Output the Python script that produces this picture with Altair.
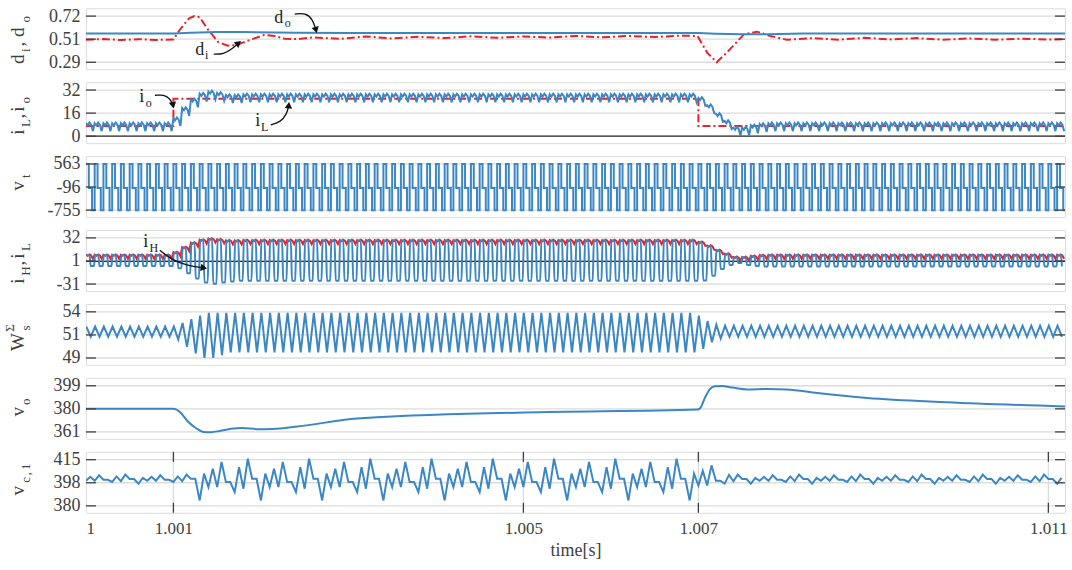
import altair as alt
import pandas as pd

# ---------------------------------------------------------------- data
T_START = 1.0
T_END = 1.01119
PERIOD = 0.0001          # ripple / switching period
N_CYC = 112

X_TICKS = [1.0, 1.001, 1.005, 1.007, 1.011]
X_LABELS = ["1", "1.001", "1.005", "1.007", "1.011"]

D_TICKS, D_LABELS = [0.29, 0.505, 0.72], ["0.29", "0.51", "0.72"]
I_TICKS, I_LABELS = [0, 16, 32], ["0", "16", "32"]
VT_TICKS, VT_LABELS = [-755, -96, 563], ["-755", "-96", "563"]
IH_TICKS, IH_LABELS = [-31, 0.5, 32], ["-31", "1", "32"]
W_TICKS, W_LABELS = [49, 51.5, 54], ["49", "51", "54"]
VO_TICKS, VO_LABELS = [361, 380, 399], ["361", "380", "399"]
VC_TICKS, VC_LABELS = [380, 397.5, 415], ["380", "398", "415"]

# d_i (red dash-dot) and d_o (blue)
DI_T = [1.0, 1.0002, 1.0004, 1.0006, 1.0008, 1.001,
        1.00108, 1.00118, 1.00124, 1.0013, 1.00139, 1.00151, 1.00162, 1.00172, 1.00188,
        1.00204, 1.00216, 1.00227, 1.00242,
        1.0026, 1.0029, 1.0032, 1.0035, 1.0038, 1.0041, 1.0044, 1.0047, 1.005, 1.0053,
        1.0056, 1.0059, 1.0062, 1.0065, 1.0068,
        1.00699, 1.0071, 1.00721, 1.00736, 1.00752, 1.00767, 1.00782, 1.00801,
        1.0083, 1.0086, 1.0089, 1.0092, 1.0095, 1.0098, 1.0101, 1.0104, 1.0107, 1.0110, 1.01119]
DI_V = [0.500, 0.506, 0.497, 0.505, 0.498, 0.503,
        0.60, 0.70, 0.72, 0.71, 0.60, 0.48, 0.445, 0.45, 0.50,
        0.545, 0.535, 0.51, 0.505,
        0.522, 0.508, 0.53, 0.512, 0.528, 0.515, 0.532, 0.518, 0.53, 0.52,
        0.535, 0.522, 0.535, 0.525, 0.538,
        0.535, 0.38, 0.29, 0.41, 0.55, 0.575, 0.535, 0.50,
        0.515, 0.50, 0.518, 0.503, 0.515, 0.50, 0.512, 0.50, 0.51, 0.502, 0.505]
DO_T = [1.0, 1.001, 1.0012, 1.0015, 1.0018, 1.0024, 1.003, 1.007, 1.0072, 1.0075, 1.0078, 1.0082, 1.01119]
DO_V = [0.557, 0.557, 0.565, 0.573, 0.572, 0.565, 0.562, 0.562, 0.556, 0.550, 0.552, 0.557, 0.557]

# i_o step (red dash-dot)
IO_T = [1.0, 1.001, 1.001, 1.007, 1.007, 1.01119]
IO_V = [7, 7, 26, 26, 7, 7]

# i_L : mean value of every switching period + ripple shape inside a period
IL_MEAN = ([6.5] * 10 + [10, 17, 23, 27, 28.5, 27.5, 26, 26] + [26.5] * 52
           + [24, 19, 13, 8, 3.5, 3.5, 5, 6] + [6.5] * 34)
IL_FRACS = [0.0, 0.2, 0.4, 0.6, 0.8]
IL_RIPPLE = [2.5, 1.0, 3.0, 1.5, -3.0]

# i_H : top and bottom level of every period
IH_TOP = ([8.5] * 10 + [12, 19, 25, 29, 30.5, 29.5, 28, 28] + [28.5] * 52
          + [26, 21, 15, 10, 5.5, 5.5, 7, 8] + [8.5] * 34)
IH_BOT = ([-6.5] * 10 + [-9.4, -16.4, -23.4, -29, -30.5, -29, -27.5, -26.5] + [-26.5] * 52
          + [-26, -19.6, -10.6, -5, -2.2, -5, -6.5, -6.9] + [-6.9] * 34)
IH_FRACS = [0.05, 0.42, 0.55, 0.92]

# v_t : three-level pulse of every period
VT_FRACS = [0.0, 0.33, 0.70]
VT_LEVELS = [563, -120, -755]

# W_s^Sigma : peak and trough of every period
W_PEAK = [52.4] * 10 + [52.4, 52.8, 53.2, 53.6, 53.9, 53.9] + [53.9] * 54 + [53.6, 53.0, 52.6] + [52.5] * 39
W_TROUGH = [51.3] * 10 + [51.0, 50.2, 49.5, 49.0, 49.0, 49.3, 49.6] + [49.6] * 53 + [50.0, 50.7, 51.1] + [51.3] * 39

# v_o
VO_T = [1.0, 1.001, 1.00108, 1.00116, 1.00126, 1.00134, 1.00143, 1.00153, 1.00166, 1.00179,
        1.00196, 1.00213, 1.00242, 1.0031, 1.00501, 1.00699, 1.00702, 1.00708, 1.00713,
        1.00719, 1.00727, 1.00739, 1.00756, 1.00779, 1.00801, 1.00836, 1.00893, 1.00984, 1.01119]
VO_V = [380, 380, 377, 370, 364, 361, 360.8, 361.8, 363.6, 364.2,
        363.3, 363.5, 365.5, 372, 377, 379.4, 380.5, 390, 396,
        398.5, 398.8, 397.5, 396, 396.3, 396, 393, 389, 385.5, 382]

# v_c,1 : two samples per period, beat pattern and its amplitude per period
VC_MEAN = 400.3
VC_PATTERN = [9.1, -7.3, 15.5, 0.3, 0.3, -16.2, 4.1, -6.1, 7.9, -6.1, 13.0, -2.3, -2.3, -9.9]
VC_AMP = [0.22] * 12 + [0.6] + [1.0] * 57 + [0.8, 0.8, 0.55, 0.35] + [0.22] * 38
VC_PHASE = 63

# ---------------------------------------------------------------- tables
def cyc_rows(fracs, values_per_cycle):
    rows = []
    for k in range(N_CYC):
        t0 = T_START + k * PERIOD
        for f, v in zip(fracs, values_per_cycle(k)):
            t = t0 + f * PERIOD
            if t <= T_END:
                rows.append((t, v))
    return pd.DataFrame(rows, columns=["t", "v"])

di_df = pd.DataFrame({"t": DI_T, "v": DI_V})
do_df = pd.DataFrame({"t": DO_T, "v": DO_V})
io_df = pd.DataFrame({"t": IO_T, "v": IO_V, "o": range(len(IO_T))})
il_df = cyc_rows(IL_FRACS, lambda k: [IL_MEAN[k] + r for r in IL_RIPPLE])
ih_df = cyc_rows(IH_FRACS, lambda k: [IH_TOP[k], IH_TOP[k], IH_BOT[k], IH_BOT[k]])
vt_df = cyc_rows(VT_FRACS, lambda k: VT_LEVELS)
vt_df = pd.concat([vt_df, pd.DataFrame({"t": [T_END], "v": [vt_df["v"].iloc[-1]]})])
w_df = cyc_rows([0.05, 0.55], lambda k: [W_PEAK[k], W_TROUGH[k]])
vo_df = pd.DataFrame({"t": VO_T, "v": VO_V})
vc_rows = []
for j in range(2 * N_CYC):
    t = T_START + j * PERIOD / 2
    if t <= T_END:
        vc_rows.append((t, VC_MEAN + VC_AMP[j // 2] * VC_PATTERN[(j - VC_PHASE) % len(VC_PATTERN)]))
vc_df = pd.DataFrame(vc_rows, columns=["t", "v"])

# ---------------------------------------------------------------- style
FONT = "Liberation Serif, Times New Roman, Tinos, DejaVu Serif, serif"
BLUE = "#3b87c6"
RED = "#e6222a"
GRID = "#dcdcdc"
DARK = "#404040"
W_PX, H_PX = 980, 61
DASHDOT = [8, 3, 2, 3]

X_SCALE = alt.Scale(domain=[T_START, T_END], nice=False, zero=False)


def lab_expr(ticks, labels):
    expr = f"'{labels[-1]}'"
    for i in range(len(ticks) - 2, -1, -1):
        thr = (ticks[i] + ticks[i + 1]) / 2
        expr = f"(datum.value < {thr} ? '{labels[i]}' : {expr})"
    return expr


def make_panel(ticks, labels, series, annotations=(), title=(), zero=None, bottom=False):
    lo, hi = ticks[0], ticks[-1]
    span = hi - lo
    ys = alt.Scale(domain=[lo - 0.15 * span, hi + 0.17 * span], nice=False, zero=False)
    yax = alt.Axis(values=ticks, labelExpr=lab_expr(ticks, labels), title=None, grid=False,
                   ticks=False, domain=False, labelPadding=6, labelFontSize=18,
                   labelFont=FONT, labelColor=DARK)
    if bottom:
        xax = alt.Axis(values=X_TICKS, labelExpr=lab_expr(X_TICKS, X_LABELS), title="time[s]",
                       grid=False, ticks=False, domain=False, labelPadding=8,
                       labelFontSize=17, labelFont=FONT, labelColor=DARK,
                       titleFont=FONT, titleFontSize=18, titleFontWeight="normal",
                       titleColor=DARK, titlePadding=5)
    else:
        xax = None

    def X(f="t"):
        return alt.X(f"{f}:Q", scale=X_SCALE, axis=xax)

    def Y(f="v"):
        return alt.Y(f"{f}:Q", scale=ys, axis=yax)

    tdf = pd.DataFrame({"v": ticks})
    layers = [alt.Chart(tdf).mark_rule(color=GRID, strokeWidth=1.3).encode(y=Y())]
    if bottom:
        xdf = pd.DataFrame({"t": X_TICKS[1:]})
        layers.append(alt.Chart(xdf).mark_rule(color=GRID, strokeWidth=1.3).encode(x=X()))
    if zero is not None:
        layers.append(alt.Chart(pd.DataFrame({"v": [zero]})).mark_rule(
            color="#2a2a2a", strokeWidth=1.3).encode(y=Y()))
    for df, kw, order in series:
        enc = dict(x=X(), y=Y())
        if order:
            enc["order"] = alt.Order("o:Q")
        layers.append(alt.Chart(df).mark_line(clip=True, **kw).encode(**enc))
    # inward ticks
    layers.append(alt.Chart(tdf).mark_rule(color=DARK, strokeWidth=1.3).encode(
        y=Y(), x=alt.value(0), x2=alt.value(10)))
    layers.append(alt.Chart(tdf).mark_rule(color=DARK, strokeWidth=1.3).encode(
        y=Y(), x=alt.value(W_PX - 10), x2=alt.value(W_PX)))
    if bottom:
        layers.append(alt.Chart(xdf).mark_rule(color=DARK, strokeWidth=1.3).encode(
            x=X(), y=alt.value(0), y2=alt.value(10)))
        layers.append(alt.Chart(xdf).mark_rule(color=DARK, strokeWidth=1.3).encode(
            x=X(), y=alt.value(H_PX - 10), y2=alt.value(H_PX)))
    # annotations: (label pieces, arrow path, arrow head angle)
    for pieces, path, ang in annotations:
        pdf = pd.DataFrame(path, columns=["t", "v"]).assign(o=range(len(path)))
        layers.append(alt.Chart(pdf).mark_line(color="#111", strokeWidth=1.3,
                                               interpolate="basis").encode(
            x=X(), y=Y(), order=alt.Order("o:Q")))
        layers.append(alt.Chart(pdf.tail(1)).mark_point(
            shape="triangle", filled=True, size=55, color="#111", angle=ang, opacity=1).encode(
            x=X(), y=Y()))
        for txt, size, t, v in pieces:
            layers.append(alt.Chart(pd.DataFrame({"t": [t], "v": [v]})).mark_text(
                text=txt, fontSize=size, font=FONT, color="#222", baseline="middle",
                align="center").encode(x=X(), y=Y()))
    # rotated y title made of pieces (pixel layout)
    for txt, size, px, py in title:
        layers.append(alt.Chart(pd.DataFrame({"a": [0]})).mark_text(
            text=txt, fontSize=size, font=FONT, color=DARK, angle=270,
            align="center", baseline="alphabetic").encode(
            x=alt.value(px), y=alt.value(py)))
    return alt.layer(*layers).properties(width=W_PX, height=H_PX)


blue = dict(color=BLUE, strokeWidth=2)
red_dd = dict(color=RED, strokeWidth=2, strokeDash=DASHDOT)

BX, SX, PX = -62, -56, -72   # baselines of normal, subscript and superscript text


def tt(pieces):
    return [(t, 19 if k == "n" else 13, {"n": BX, "b": SX, "p": PX}[k], y) for t, k, y in pieces]


p1 = make_panel(
    D_TICKS, D_LABELS,
    [(di_df, red_dd, False), (do_df, blue, False)],
    annotations=[
        ([("d", 18, 1.002203, 0.701), ("o", 12, 1.002306, 0.653)],
         [(1.002386, 0.739), (1.002511, 0.749), (1.002591, 0.691), (1.002626, 0.60)], 165),
        ([("d", 18, 1.001301, 0.405), ("i", 12, 1.001381, 0.357)],
         [(1.001461, 0.366), (1.001575, 0.366), (1.001667, 0.414), (1.001735, 0.462)], 50),
    ],
    title=tt([("d", "n", 51), ("i", "b", 42), (",", "n", 36), ("d", "n", 24), ("o", "b", 11)]),
)
p2 = make_panel(
    I_TICKS, I_LABELS,
    [(io_df, red_dd, True), (il_df, blue, False)],
    annotations=[
        ([("i", 18, 1.000639, 26.9), ("o", 12, 1.000719, 22.8)],
         [(1.000788, 28.3), (1.00089, 28.9), (1.000959, 26.2), (1.000993, 22.1)], 170),
        ([("i", 18, 1.001963, 10.55), ("L", 12, 1.002043, 6.47)],
         [(1.002112, 7.83), (1.002226, 9.87), (1.002295, 15.3), (1.002317, 20.8)], 5),
    ],
    title=tt([("i", "n", 50), ("L", "b", 41), (",", "n", 34), ("i", "n", 27), ("o", "b", 18)]),
    zero=0,
)
p3 = make_panel(
    VT_TICKS, VT_LABELS,
    [(vt_df, dict(color=BLUE, strokeWidth=2, interpolate="step-after"), False)],
    title=tt([("v", "n", 30), ("t", "b", 20)]),
)
p4 = make_panel(
    IH_TICKS, IH_LABELS,
    [(il_df, dict(color=RED, strokeWidth=2), False),
     (ih_df, dict(color=BLUE, strokeWidth=2, interpolate="monotone"), False)],
    annotations=[
        ([("i", 18, 1.000685, 26.4), ("H", 12, 1.000776, 18.0)],
         [(1.000845, 15.2), (1.000993, 1.2), (1.001164, -5.8), (1.001336, -8.6)], 100),
    ],
    title=tt([("i", "n", 51), ("H", "b", 41), (",", "n", 33), ("i", "n", 26), ("L", "b", 17)]),
    zero=0,
)
p5 = make_panel(
    W_TICKS, W_LABELS,
    [(w_df, blue, False)],
    title=tt([("W", "n", 38), ("s", "b", 24), ("Σ", "p", 24)]),
)
p6 = make_panel(
    VO_TICKS, VO_LABELS,
    [(vo_df, dict(color=BLUE, strokeWidth=2, interpolate="monotone"), False)],
    title=tt([("v", "n", 34), ("o", "b", 24)]),
)
p7 = make_panel(
    VC_TICKS, VC_LABELS,
    [(vc_df, blue, False)],
    title=tt([("v", "n", 39), ("c", "b", 28), (",", "b", 22), ("1", "b", 15)]),
    bottom=True,
)

chart = (
    alt.vconcat(p1, p2, p3, p4, p5, p6, p7, spacing=13, bounds="flush")
    .properties(padding={"left": 3, "top": 6, "right": 4, "bottom": 2})
    .configure_view(stroke=DARK, strokeWidth=1.5)
    .configure(font=FONT)
)

chart.save("out.html", embed_options={"renderer": "svg", "actions": False})
